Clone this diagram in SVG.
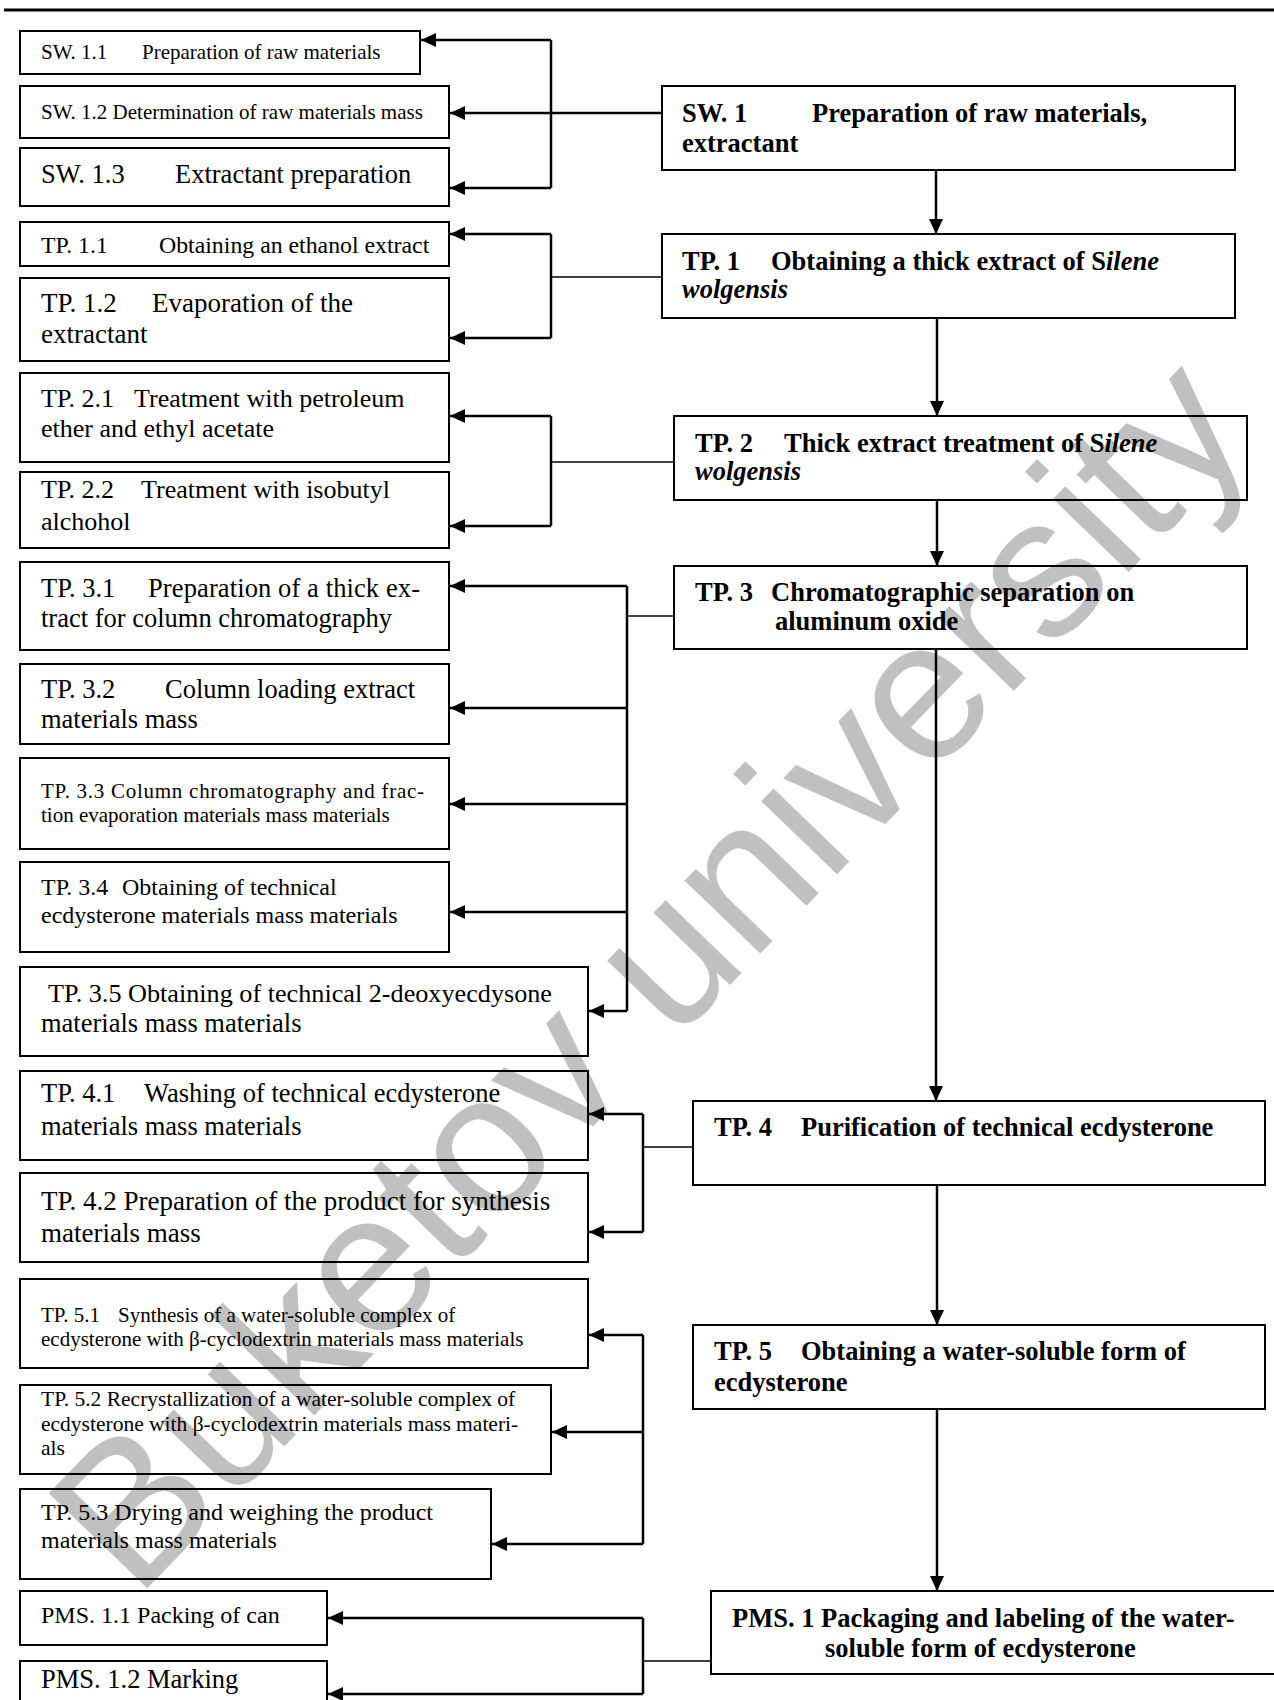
<svg xmlns="http://www.w3.org/2000/svg" width="1274" height="1700" viewBox="0 0 1274 1700" xml:space="preserve">
<defs>
<style>
.box{fill:none;stroke:#000;stroke-width:2}
.t{font-family:"Liberation Serif","Times New Roman",serif;fill:#000}
.b{font-weight:bold}
.i{font-style:italic}
.c{stroke:#000;stroke-width:2.5;fill:none}
.th{stroke:#000;stroke-width:1.5;fill:none}
.a{marker-end:url(#ah)}
.wm{font-family:"Liberation Sans",Arial,sans-serif;fill:#c0c0c0}
</style>
<marker id="ah" markerUnits="userSpaceOnUse" markerWidth="16" markerHeight="14" refX="15" refY="7" orient="auto"><path d="M0,0 L15,7 L0,14 z" fill="#000"/></marker>
</defs>
<rect x="0" y="0" width="1274" height="1700" fill="#fff"/>
<text class="wm" font-size="199" transform="translate(136,1600) rotate(-46)">Buketov university</text>
<line x1="4" y1="10" x2="1274" y2="10" stroke="#000" stroke-width="3"/>

<g id="connectors">
<path class="c a" d="M551,40 H421"/>
<path class="c" d="M551,40 V188"/>
<path class="c a" d="M551,188 H450"/>
<path class="c a" d="M662,113 H450"/>
<path class="c a" d="M551,234 H450"/>
<path class="c" d="M551,234 V338"/>
<path class="c a" d="M551,338 H450"/>
<path class="th" d="M662,277 H551"/>
<path class="c a" d="M551,416 H450"/>
<path class="c" d="M551,416 V526"/>
<path class="c a" d="M551,526 H450"/>
<path class="th" d="M674,462 H551"/>
<path class="c" d="M627,586 V1011"/>
<path class="c a" d="M627,586 H450"/>
<path class="c a" d="M627,708 H450"/>
<path class="c a" d="M627,804 H450"/>
<path class="c a" d="M627,912 H450"/>
<path class="c a" d="M627,1011 H589"/>
<path class="th" d="M674,616 H627"/>
<path class="c" d="M643,1114 V1232"/>
<path class="c a" d="M643,1114 H589"/>
<path class="c a" d="M643,1232 H589"/>
<path class="th" d="M693,1147 H643"/>
<path class="c" d="M643,1335 V1544"/>
<path class="c a" d="M643,1335 H589"/>
<path class="c a" d="M643,1432 H552"/>
<path class="c a" d="M643,1544 H492"/>
<path class="c" d="M643,1618 V1694"/>
<path class="c a" d="M643,1618 H328"/>
<path class="c a" d="M643,1694 H328"/>
<path class="th" d="M711,1661 H643"/>
<path class="c a" d="M936,170 V234"/>
<path class="c a" d="M937,318 V416"/>
<path class="c a" d="M937,500 V566"/>
<path class="c a" d="M936,649 V1101"/>
<path class="c a" d="M937,1185 V1325"/>
<path class="c a" d="M937,1409 V1591"/>
</g>

<g id="sw11"><rect class="box" x="20" y="31" width="400" height="43"/><text class="t" font-size="21" x="41" y="59">SW. 1.1</text><text class="t" font-size="21" x="142" y="59">Preparation of raw  materials</text></g>
<g id="sw12"><rect class="box" x="20" y="86" width="429" height="52"/><text class="t" font-size="21" x="41" y="119">SW. 1.2 Determination of raw materials mass</text></g>
<g id="sw13"><rect class="box" x="20" y="148" width="429" height="58"/><text class="t" font-size="26.5" x="41" y="183">SW. 1.3</text><text class="t" font-size="26.5" x="175" y="183">Extractant preparation</text></g>
<g id="tp11"><rect class="box" x="20" y="222" width="429" height="44"/><text class="t" font-size="23.8" x="41" y="253">TP. 1.1</text><text class="t" font-size="23.8" x="159" y="253">Obtaining an ethanol extract</text></g>
<g id="tp12"><rect class="box" x="20" y="278" width="429" height="83"/><text class="t" font-size="27" x="41" y="312">TP. 1.2</text><text class="t" font-size="27" x="152" y="312">Evaporation of the</text><text class="t" font-size="27" x="41" y="343">extractant</text></g>
<g id="tp21"><rect class="box" x="20" y="373" width="429" height="89"/><text class="t" font-size="26" x="41" y="407">TP. 2.1</text><text class="t" font-size="26" x="134" y="407">Treatment with petroleum</text><text class="t" font-size="26" x="41" y="437">ether and ethyl acetate</text></g>
<g id="tp22"><rect class="box" x="20" y="472" width="429" height="76"/><text class="t" font-size="26" x="41" y="498">TP. 2.2</text><text class="t" font-size="26" x="141" y="498">Treatment with isobutyl</text><text class="t" font-size="26" x="41" y="530">alchohol</text></g>
<g id="tp31"><rect class="box" x="20" y="562" width="429" height="88"/><text class="t" font-size="26.5" x="41" y="597">TP. 3.1</text><text class="t" font-size="26.5" x="148" y="597" textLength="272" lengthAdjust="spacing">Preparation of a thick ex-</text><text class="t" font-size="26.5" x="41" y="627">tract for column chromatography</text></g>
<g id="tp32"><rect class="box" x="20" y="664" width="429" height="80"/><text class="t" font-size="26.5" x="41" y="698">TP. 3.2</text><text class="t" font-size="26.5" x="165" y="698">Column loading extract</text><text class="t" font-size="26.5" x="41" y="728">materials mass</text></g>
<g id="tp33"><rect class="box" x="20" y="758" width="429" height="91"/><text class="t" font-size="21" x="41" y="798" textLength="383" lengthAdjust="spacing">TP. 3.3 Column chromatography and frac-</text><text class="t" font-size="21" x="41" y="822">tion evaporation materials mass materials</text></g>
<g id="tp34"><rect class="box" x="20" y="862" width="429" height="90"/><text class="t" font-size="24" x="41" y="895">TP. 3.4</text><text class="t" font-size="24" x="122" y="895">Obtaining of technical</text><text class="t" font-size="24" x="41" y="923">ecdysterone materials mass materials</text></g>
<g id="tp35"><rect class="box" x="20" y="967" width="568" height="89"/><text class="t" font-size="26.2" x="48" y="1002">TP. 3.5 Obtaining of technical 2-deoxyecdysone</text><text class="t" font-size="26.5" x="41" y="1032">materials mass materials</text></g>
<g id="tp41"><rect class="box" x="20" y="1071" width="568" height="89"/><text class="t" font-size="26.5" x="41" y="1102">TP. 4.1</text><text class="t" font-size="26.5" x="144" y="1102">Washing of technical ecdysterone</text><text class="t" font-size="26.5" x="41" y="1135">materials mass materials</text></g>
<g id="tp42"><rect class="box" x="20" y="1173" width="568" height="89"/><text class="t" font-size="27" x="41" y="1210">TP. 4.2 Preparation of the product for synthesis</text><text class="t" font-size="27" x="41" y="1242">materials mass</text></g>
<g id="tp51"><rect class="box" x="20" y="1279" width="568" height="89"/><text class="t" font-size="21" x="41" y="1322">TP. 5.1</text><text class="t" font-size="21" x="118" y="1322">Synthesis of a water-soluble complex of</text><text class="t" font-size="21" x="41" y="1346">ecdysterone with β-cyclodextrin materials mass materials</text></g>
<g id="tp52"><rect class="box" x="20" y="1385" width="531" height="89"/><text class="t" font-size="21.5" x="41" y="1406">TP. 5.2  Recrystallization of a water-soluble complex of</text><text class="t" font-size="21.5" x="41" y="1431">ecdysterone with β-cyclodextrin materials mass materi-</text><text class="t" font-size="21.5" x="41" y="1455">als</text></g>
<g id="tp53"><rect class="box" x="20" y="1489" width="471" height="90"/><text class="t" font-size="24" x="41" y="1520">TP. 5.3 Drying and weighing the product</text><text class="t" font-size="24" x="41" y="1548">materials mass materials</text></g>
<g id="pms11"><rect class="box" x="20" y="1591" width="307" height="54"/><text class="t" font-size="24" x="41" y="1623">PMS. 1.1 Packing of can</text></g>
<g id="pms12"><rect class="box" x="20" y="1661" width="307" height="60"/><text class="t" font-size="26.5" x="41" y="1688">PMS. 1.2 Marking</text></g>

<g id="sw1"><rect class="box" x="662" y="86" width="573" height="84"/><text class="t b" font-size="26.5" x="682" y="122">SW. 1</text><text class="t b" font-size="26.5" x="812" y="122">Preparation of raw materials,</text><text class="t b" font-size="26.5" x="682" y="152">extractant</text></g>
<g id="tp1"><rect class="box" x="662" y="234" width="573" height="84"/><text class="t b" font-size="26.5" x="682" y="270">TP. 1</text><text class="t b" font-size="26.5" x="771" y="270">Obtaining a thick extract of S<tspan class="i">ilene</tspan></text><text class="t b i" font-size="26.5" x="682" y="298">wolgensis</text></g>
<g id="tp2"><rect class="box" x="674" y="416" width="573" height="84"/><text class="t b" font-size="26.5" x="695" y="452">TP. 2</text><text class="t b" font-size="26.5" x="784" y="452">Thick extract treatment of S<tspan class="i">ilene</tspan></text><text class="t b i" font-size="26.5" x="695" y="480">wolgensis</text></g>
<g id="tp3"><rect class="box" x="674" y="566" width="573" height="83"/><text class="t b" font-size="26.5" x="695" y="601">TP. 3</text><text class="t b" font-size="26.5" x="771" y="601">Chromatographic separation on</text><text class="t b" font-size="26.5" x="775" y="630">aluminum oxide</text></g>
<g id="tp4"><rect class="box" x="693" y="1101" width="572" height="84"/><text class="t b" font-size="26.5" x="714" y="1136">TP. 4</text><text class="t b" font-size="26.5" x="801" y="1136">Purification of technical ecdysterone</text></g>
<g id="tp5"><rect class="box" x="693" y="1325" width="572" height="84"/><text class="t b" font-size="26.5" x="714" y="1360">TP. 5</text><text class="t b" font-size="26.5" x="801" y="1360">Obtaining a water-soluble form of</text><text class="t b" font-size="26.5" x="714" y="1391">ecdysterone</text></g>
<g id="pms1"><rect class="box" x="711" y="1591" width="580" height="83"/><text class="t b" font-size="26.5" x="732" y="1627">PMS. 1 Packaging and labeling of the water-</text><text class="t b" font-size="26.5" x="825" y="1657">soluble form of ecdysterone</text></g>
</svg>
